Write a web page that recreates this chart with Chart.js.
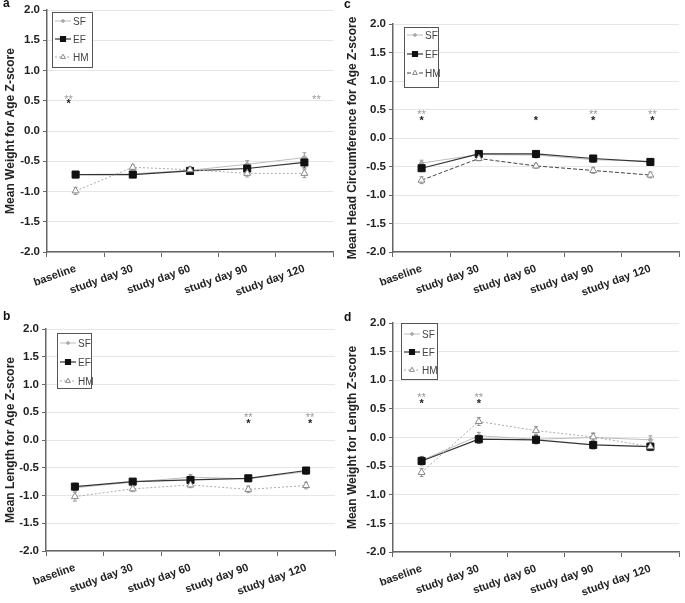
<!DOCTYPE html>
<html>
<head>
<meta charset="utf-8">
<script src="https://cdn.jsdelivr.net/npm/chart.js@4.4.1/dist/chart.umd.min.js"></script>
<style>
  body { margin: 0; background: #fff; width: 685px; height: 603px; position: relative; overflow: hidden; }
  canvas { position: absolute; }
  .tag { position: absolute; font: bold 12px "Liberation Sans", Arial, sans-serif; color: #111; }
</style>
</head>
<body>
<canvas id="panelA" width="342" height="300" style="left:0;top:0"></canvas>
<canvas id="panelC" width="343" height="300" style="left:342px;top:0"></canvas>
<canvas id="panelB" width="342" height="303" style="left:0;top:300px"></canvas>
<canvas id="panelD" width="343" height="303" style="left:342px;top:300px"></canvas>
<div class="tag" style="left:3px;top:-4px">a</div>
<div class="tag" style="left:344px;top:-3px">c</div>
<div class="tag" style="left:3px;top:309px">b</div>
<div class="tag" style="left:344px;top:310px">d</div>
<script>
const categories = ["baseline", "study day 30", "study day 60", "study day 90", "study day 120"];
const seriesNames = ["SF", "EF", "HM"];

// a - weight for age
const weightAgeSF = [-0.72, -0.71, -0.65, -0.55, -0.44];
const weightAgeEF = [-0.72, -0.72, -0.66, -0.62, -0.52];
const weightAgeHM = [-0.99, -0.60, -0.64, -0.70, -0.70];
const weightAgeErrSF = [0.05, 0.04, 0.05, 0.06, 0.08];
const weightAgeErrEF = [0.05, 0.04, 0.04, 0.06, 0.09];
const weightAgeErrHM = [0.06, 0.04, 0.05, 0.06, 0.07];
const weightAgeDouble = [0.56, null, null, null, 0.56];
const weightAgeSingle = [0.49, null, null, null, null];

// c - head circumference for age
const headAgeSF = [-0.44, -0.29, -0.30, -0.38, -0.41];
const headAgeEF = [-0.53, -0.28, -0.28, -0.36, -0.42];
const headAgeHM = [-0.74, -0.36, -0.49, -0.57, -0.65];
const headAgeErrSF = [0.05, 0.04, 0.05, 0.05, 0.05];
const headAgeErrEF = [0.05, 0.04, 0.05, 0.04, 0.04];
const headAgeErrHM = [0.06, 0.04, 0.04, 0.05, 0.05];
const headAgeDouble = [0.46, null, null, 0.46, 0.46];
const headAgeSingle = [0.35, null, 0.35, 0.35, 0.35];

// b - length for age
const lengthAgeSF = [-0.86, -0.76, -0.67, -0.70, -0.57];
const lengthAgeEF = [-0.84, -0.75, -0.72, -0.69, -0.55];
const lengthAgeHM = [-1.02, -0.88, -0.81, -0.89, -0.82];
const lengthAgeErrSF = [0.06, 0.04, 0.05, 0.05, 0.05];
const lengthAgeErrEF = [0.06, 0.04, 0.05, 0.05, 0.04];
const lengthAgeErrHM = [0.08, 0.05, 0.05, 0.06, 0.06];
const lengthAgeDouble = [null, null, null, 0.45, 0.45];
const lengthAgeSingle = [null, null, null, 0.35, 0.35];

// d - weight for length
const weightLengthSF = [-0.40, 0.03, -0.03, 0.00, -0.04];
const weightLengthEF = [-0.41, -0.03, -0.04, -0.13, -0.16];
const weightLengthHM = [-0.61, 0.28, 0.12, 0.01, -0.16];
const weightLengthErrSF = [0.07, 0.06, 0.07, 0.07, 0.07];
const weightLengthErrEF = [0.07, 0.07, 0.07, 0.07, 0.07];
const weightLengthErrHM = [0.07, 0.07, 0.07, 0.07, 0.06];
const weightLengthDouble = [0.75, 0.75, null, null, null];
const weightLengthSingle = [0.64, 0.64, null, null, null];

const FONT = '"Liberation Sans", Arial, sans-serif';
const seriesLook = [
    { color: "#bdbdbd", point: "rectRot", radius: 2.5, fill: "#aaa", border: "#aaa", width: 1, dash: [] },
    { color: "#333", point: "rect", radius: 5, fill: "#111", border: "#111", width: 1.2, dash: [] },
    { color: "#aaa", point: "triangle", radius: 4, fill: "#fff", border: "#888", width: 1, dash: [2, 2] }
];

function makeExtras(look, errors, doubleStars, singleStars) {
    return {
        id: "extras",
        beforeDatasetsDraw(chart) {
            const ctx = chart.ctx;
            const x = chart.scales.x, y = chart.scales.y;
            chart.data.datasets.forEach((ds, di) => {
                ctx.save();
                ctx.strokeStyle = di === 1 ? "#555" : "#999";
                ctx.lineWidth = 1;
                ds.data.forEach((v, i) => {
                    const px = x.getPixelForValue(i);
                    const top = y.getPixelForValue(v + errors[di][i]);
                    const bot = y.getPixelForValue(v - errors[di][i]);
                    ctx.beginPath();
                    ctx.moveTo(px, top); ctx.lineTo(px, bot);
                    ctx.moveTo(px - 2, top); ctx.lineTo(px + 2, top);
                    ctx.moveTo(px - 2, bot); ctx.lineTo(px + 2, bot);
                    ctx.stroke();
                });
                ctx.restore();
            });
        },
        afterDraw(chart) {
            const ctx = chart.ctx;
            const x = chart.scales.x, y = chart.scales.y;
            const area = chart.chartArea;
            ctx.save();
            ctx.textAlign = "center";
            ctx.textBaseline = "middle";
            categories.forEach((c, i) => {
                const px = x.getPixelForValue(i) + look.starShift[i];
                if (doubleStars[i] !== null) {
                    ctx.font = "11px " + FONT;
                    ctx.fillStyle = "#999";
                    ctx.fillText("**", px, y.getPixelForValue(doubleStars[i]) + 3);
                }
                if (singleStars[i] !== null) {
                    ctx.font = "bold 11px " + FONT;
                    ctx.fillStyle = "#222";
                    ctx.fillText("*", px, y.getPixelForValue(singleStars[i]) + 3);
                }
            });
            // legend box
            const bx = area.left + look.legend.dx, by = area.top + look.legend.dy;
            ctx.fillStyle = "#fff";
            ctx.fillRect(bx, by, look.legend.w, look.legend.h);
            ctx.strokeStyle = "#555";
            ctx.lineWidth = 1;
            ctx.strokeRect(bx + 0.5, by + 0.5, look.legend.w, look.legend.h);
            chart.data.datasets.forEach((ds, di) => {
                const ly = by + look.legend.first + di * look.legend.gap;
                ctx.save();
                ctx.strokeStyle = ds.borderColor;
                ctx.lineWidth = ds.borderWidth;
                ctx.setLineDash(ds.borderDash || []);
                ctx.beginPath();
                ctx.moveTo(bx + 3, ly); ctx.lineTo(bx + 19, ly);
                ctx.stroke();
                ctx.setLineDash([]);
                ctx.fillStyle = ds.pointBackgroundColor;
                ctx.strokeStyle = ds.pointBorderColor;
                Chart.helpers.drawPoint(ctx, { pointStyle: ds.pointStyle, radius: ds.pointRadius * 0.7, borderWidth: 1, rotation: 0 }, bx + 11, ly);
                ctx.restore();
                ctx.fillStyle = "#444";
                ctx.font = "10px " + FONT;
                ctx.textAlign = "left";
                ctx.fillText(seriesNames[di], bx + 21, ly + 1);
            });
            ctx.restore();
        }
    };
}

function buildPanel(canvasId, yTitle, sf, ef, hm, errors, doubleStars, singleStars, look) {
    const datasets = [sf, ef, hm].map((values, di) => {
        const s = seriesLook[di];
        const dash = di === 2 && look.hmDash ? look.hmDash : s.dash;
        const color = di === 2 && look.hmColor ? look.hmColor : s.color;
        return {
            label: seriesNames[di],
            data: values,
            borderColor: color,
            borderWidth: s.width,
            borderDash: dash,
            pointStyle: s.point,
            pointRadius: s.radius,
            pointBackgroundColor: s.fill,
            pointBorderColor: s.border,
            pointBorderWidth: 1,
            tension: 0,
            fill: false,
            order: 3 - di
        };
    });
    return new Chart(document.getElementById(canvasId), {
        type: "line",
        data: { labels: categories, datasets: datasets },
        options: {
            responsive: false,
            animation: false,
            events: [],
            layout: { padding: look.padding },
            plugins: { legend: { display: false }, tooltip: { enabled: false } },
            scales: {
                x: {
                    offset: true,
                    afterFit: s => { s.height = look.xHeight; },
                    grid: { offset: true, drawOnChartArea: false, drawTicks: true, tickLength: 5, color: "#666" },
                    border: { color: "#666", width: 1.5 },
                    ticks: {
                        autoSkip: false, minRotation: 20, maxRotation: 20, padding: 5,
                        color: "#222", font: { family: FONT, size: 11, weight: "bold" }
                    }
                },
                y: {
                    min: -2, max: 2,
                    afterFit: s => { s.width = look.yWidth; },
                    grid: { color: "#e6e6e6", tickColor: "#666", tickLength: 4 },
                    border: { color: "#666", width: 1.5 },
                    ticks: {
                        stepSize: 0.5, padding: 3, color: "#222",
                        font: { family: FONT, size: 11.5, weight: "bold" },
                        callback: v => v.toFixed(1)
                    },
                    title: {
                        display: true, text: yTitle, color: "#222",
                        padding: { top: 3, bottom: 0 },
                        font: { family: FONT, size: 12, weight: "bold" }
                    }
                }
            }
        },
        plugins: [makeExtras(look, errors, doubleStars, singleStars)]
    });
}

buildPanel("panelA", "Mean Weight for Age Z-score",
    weightAgeSF, weightAgeEF, weightAgeHM,
    [weightAgeErrSF, weightAgeErrEF, weightAgeErrHM], weightAgeDouble, weightAgeSingle,
    { padding: { top: 10, right: 9, left: 0, bottom: 0 }, yWidth: 47, xHeight: 48,
      starShift: [-7, 0, 0, 0, 12],
      legend: { dx: 5, dy: 2, w: 40, h: 55, first: 9, gap: 18 } });

buildPanel("panelC", "Mean Head Circumference for Age Z-score",
    headAgeSF, headAgeEF, headAgeHM,
    [headAgeErrSF, headAgeErrEF, headAgeErrHM], headAgeDouble, headAgeSingle,
    { padding: { top: 24, right: 2, left: 0, bottom: 0 }, yWidth: 51, xHeight: 48,
      hmDash: [4, 2], hmColor: "#444",
      starShift: [0, 0, 0, 0, 2],
      legend: { dx: 11, dy: 3, w: 34, h: 60, first: 8, gap: 19 } });

buildPanel("panelB", "Mean Length for Age Z-score",
    lengthAgeSF, lengthAgeEF, lengthAgeHM,
    [lengthAgeErrSF, lengthAgeErrEF, lengthAgeErrHM], lengthAgeDouble, lengthAgeSingle,
    { padding: { top: 29, right: 7, left: 0, bottom: 0 }, yWidth: 46, xHeight: 52,
      starShift: [0, 0, 0, 0, 4],
      legend: { dx: 11, dy: 4, w: 34, h: 55, first: 10, gap: 19 } });

buildPanel("panelD", "Mean Weight for Length Z-score",
    weightLengthSF, weightLengthEF, weightLengthHM,
    [weightLengthErrSF, weightLengthErrEF, weightLengthErrHM], weightLengthDouble, weightLengthSingle,
    { padding: { top: 23, right: 2, left: 0, bottom: 0 }, yWidth: 51, xHeight: 51,
      starShift: [0, 0, 0, 0, 0],
      legend: { dx: 8, dy: 0, w: 36, h: 56, first: 11, gap: 18 } });
</script>
</body>
</html>
